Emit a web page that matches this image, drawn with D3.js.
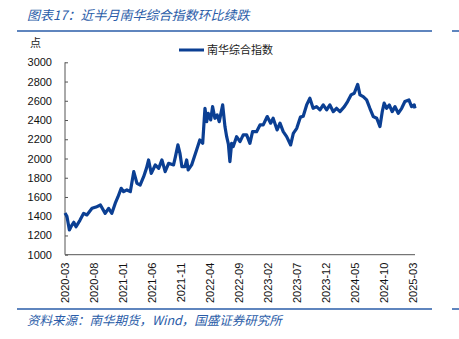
<!DOCTYPE html>
<html><head><meta charset="utf-8">
<script src="https://cdn.jsdelivr.net/npm/d3@7"></script>
<style>
html,body{margin:0;padding:0;background:#fff;}
svg{display:block;}
</style></head>
<body>
<script>
const dates = ["2020-03-02","2020-03-12","2020-03-25","2020-04-05","2020-04-17","2020-04-29","2020-05-20","2020-06-08","2020-06-25","2020-07-22","2020-08-12","2020-09-04","2020-09-29","2020-10-17","2020-11-03","2020-11-21","2020-12-05","2020-12-22","2021-01-04","2021-01-21","2021-02-08","2021-02-26","2021-03-15","2021-04-01","2021-04-19","2021-05-04","2021-05-15","2021-05-29","2021-06-19","2021-07-07","2021-07-24","2021-08-10","2021-08-28","2021-09-23","2021-10-03","2021-10-16","2021-10-27","2021-11-06","2021-11-22","2021-12-01","2021-12-09","2021-12-27","2022-01-22","2022-02-08","2022-02-23","2022-03-07","2022-03-16","2022-03-24","2022-04-06","2022-04-16","2022-04-28","2022-05-10","2022-05-21","2022-06-08","2022-06-20","2022-06-29","2022-07-08","2022-07-16","2022-07-25","2022-08-02","2022-08-20","2022-09-07","2022-09-24","2022-10-12","2022-10-29","2022-11-12","2022-12-03","2022-12-21","2023-01-07","2023-01-28","2023-02-15","2023-02-28","2023-03-21","2023-04-05","2023-04-22","2023-05-10","2023-05-31","2023-06-14","2023-07-02","2023-07-21","2023-08-05","2023-08-23","2023-09-09","2023-09-26","2023-10-14","2023-11-01","2023-11-18","2023-12-06","2023-12-23","2024-01-10","2024-01-27","2024-02-14","2024-03-08","2024-03-25","2024-04-12","2024-04-29","2024-05-17","2024-05-29","2024-06-15","2024-07-03","2024-07-20","2024-08-07","2024-08-25","2024-09-11","2024-09-23","2024-10-03","2024-10-16","2024-10-30","2024-11-14","2024-11-29","2024-12-16","2025-01-03","2025-01-20","2025-02-10","2025-02-24","2025-03-10","2025-03-14"];
const values = [1434,1400,1257,1300,1337,1291,1360,1430,1413,1482,1495,1517,1430,1482,1430,1535,1600,1690,1655,1673,1655,1863,1742,1725,1811,1900,1985,1846,1933,1898,1985,1863,1950,1933,2020,2141,2050,1915,1915,1985,1881,1933,2089,2193,2158,2522,2383,2470,2401,2539,2418,2453,2383,2557,2332,2227,2150,1967,2158,2123,2227,2175,2245,2245,2158,2279,2279,2349,2349,2436,2367,2418,2297,2367,2279,2227,2141,2262,2314,2430,2440,2557,2626,2522,2539,2505,2557,2505,2557,2487,2522,2487,2539,2592,2661,2678,2770,2661,2643,2609,2522,2436,2418,2332,2487,2575,2522,2557,2487,2539,2470,2522,2592,2609,2539,2557,2522];
const yTicks = [1000,1200,1400,1600,1800,2000,2200,2400,2600,2800,3000];
const xTickLabels = ["2020-03","2020-08","2021-01","2021-06","2021-11","2022-04","2022-09","2023-02","2023-07","2023-12","2024-05","2024-10","2025-03"];
const seriesName = "南华综合指数";
const titleText = "图表17：近半月南华综合指数环比续跌";
const sourceText = "资料来源：南华期货，Wind，国盛证券研究所";
const unitText = "点";

const W = 459, H = 339;
const blue = "#0b3f93", accent = "#2a5ca8";
const parse = d3.timeParse("%Y-%m-%d");
const data = dates.map((d,i)=>({date: parse(d), value: values[i]}));

const svg = d3.select("body").append("svg").attr("width", W).attr("height", H);
const cjk = "'Noto Sans CJK SC', sans-serif";
const num = "'Liberation Sans', Arial, sans-serif";

// title
svg.append("text").attr("x", 27).attr("y", 20).text(titleText)
  .attr("font-family", cjk).attr("font-size", 13).attr("font-style", "italic").attr("fill", accent);
// header rules
svg.append("line").attr("x1",17).attr("x2",432).attr("y1",31).attr("y2",31).attr("stroke",accent).attr("stroke-width",1.5);
svg.append("line").attr("x1",452).attr("x2",459).attr("y1",31).attr("y2",31).attr("stroke",accent).attr("stroke-width",1.5);
// footer rules
svg.append("line").attr("x1",17).attr("x2",432).attr("y1",309).attr("y2",309).attr("stroke",accent).attr("stroke-width",1.5);
svg.append("line").attr("x1",452).attr("x2",459).attr("y1",309).attr("y2",309).attr("stroke",accent).attr("stroke-width",1.5);
svg.append("text").attr("x", 27).attr("y", 325).text(sourceText)
  .attr("font-family", cjk).attr("font-size", 12.5).attr("font-style", "italic").attr("fill", accent);

// unit
svg.append("text").attr("x", 30).attr("y", 47).text(unitText)
  .attr("font-family", cjk).attr("font-size", 11).attr("fill", "#222");

// legend
svg.append("line").attr("x1",179).attr("x2",204).attr("y1",50).attr("y2",50).attr("stroke",blue).attr("stroke-width",3);
svg.append("text").attr("x", 207).attr("y", 54).text(seriesName)
  .attr("font-family", cjk).attr("font-size", 11).attr("fill", "#222");

const x = d3.scaleTime().domain([data[0].date, data[data.length-1].date]).range([65, 415]);
const y = d3.scaleLinear().domain([1000, 3000]).range([254.7, 62.3]);

// y axis
const yAxis = svg.append("g").attr("transform", "translate(65,0)")
  .call(d3.axisLeft(y).tickValues(yTicks).tickSize(-3).tickPadding(13).tickFormat(d3.format("d")));
yAxis.select(".domain").attr("stroke", "#555").attr("d", "M0,62.3V254.7");
yAxis.selectAll(".tick line").attr("stroke", "#555");
yAxis.selectAll("text").attr("font-family", num).attr("font-size", 11).attr("fill", "#111");

// x axis
const tickDates = xTickLabels.map(s => d3.timeParse("%Y-%m")(s));
const xAxis = svg.append("g").attr("transform", "translate(0,254.7)")
  .call(d3.axisBottom(x).tickValues(tickDates).tickSize(0).tickFormat(d3.timeFormat("%Y-%m")));
xAxis.select(".domain").attr("stroke", "#555").attr("d", "M65,0H415");
xAxis.selectAll("text")
  .attr("font-family", num).attr("font-size", 11).attr("fill", "#111")
  .attr("text-anchor", "end").attr("transform", "translate(0,8) rotate(-90)")
  .attr("x", 0).attr("y", 0).attr("dx", 0).attr("dy", "0.35em");

// line
const line = d3.line().x(d=>x(d.date)).y(d=>y(d.value));
svg.append("path").datum(data).attr("d", line).attr("fill","none")
  .attr("stroke", blue).attr("stroke-width", 3.2).attr("stroke-linejoin","round");
</script>
</body></html>
